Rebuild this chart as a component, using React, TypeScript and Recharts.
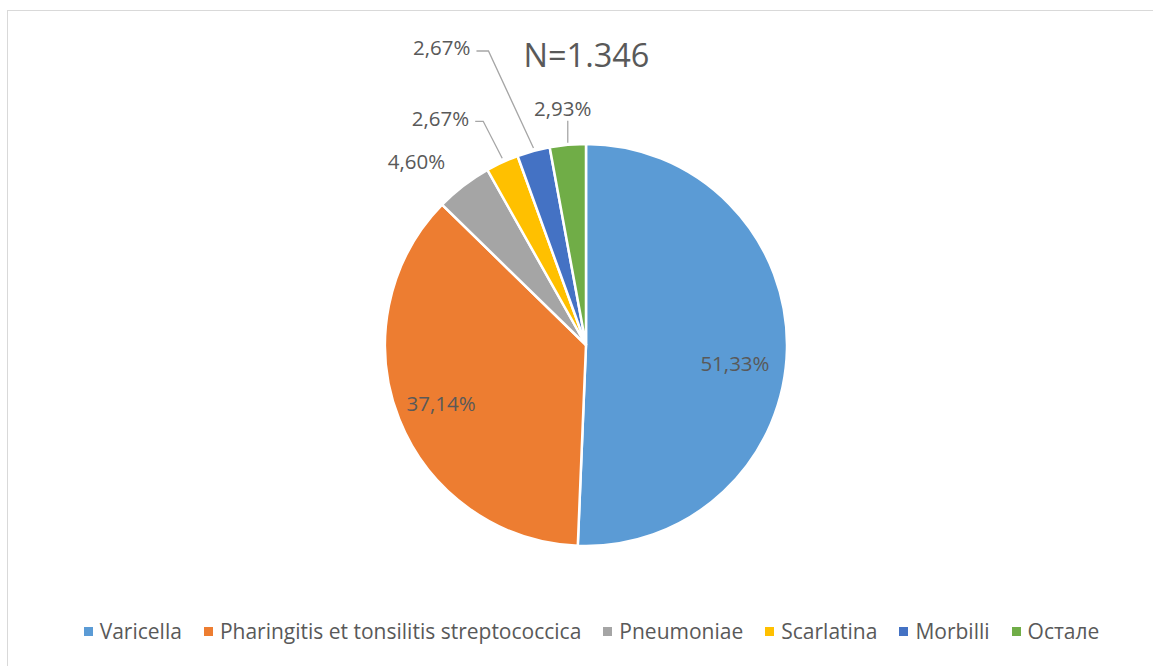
import React from "react";
import { Legend, Pie, PieChart, Cell } from "recharts";

const categories = [
  "Varicella",
  "Pharingitis et tonsilitis streptococcica",
  "Pneumoniae",
  "Scarlatina",
  "Morbilli",
  "Остале",
];
const values = [51.33, 37.14, 4.6, 2.67, 2.67, 2.93];
const valueLabels = ["51,33%", "37,14%", "4,60%", "2,67%", "2,67%", "2,93%"];
const colors = ["#5B9BD5", "#ED7D31", "#A5A5A5", "#FFC000", "#4472C4", "#70AD47"];

const title = "N=1.346";

const data = categories.map((name, i) => ({ name, value: values[i], label: valueLabels[i] }));

const FONT = "'Open Sans', sans-serif";
const TEXT = "#595959";
const LINE = "#A6A6A6";
const RAD = Math.PI / 180;
const LABEL_SIZE = 20.5;

// label placement per slice: inside (radius) or outside (offsets from slice edge)
type LabelLayout =
  | { kind: "inside"; r: number; dy: number }
  | { kind: "outside"; text: [number, number]; anchor: "start" | "middle" | "end"; line?: [number, number][] };

const labelLayout: LabelLayout[] = [
  { kind: "inside", r: 149, dy: 15 },
  { kind: "inside", r: 156, dy: 0 },
  { kind: "outside", text: [-47, -25], anchor: "middle" },
  { kind: "outside", text: [-33, -44], anchor: "end", line: [[0, -4], [-19, -41], [-27, -41]] },
  { kind: "outside", text: [-63, -104], anchor: "end", line: [[0, -3], [-45, -100], [-57, -100]] },
  { kind: "outside", text: [-5, -37], anchor: "middle", line: [[0, -2], [0, -24]] },
];

function renderLabel(props: any) {
  const { cx, cy, midAngle, outerRadius, index } = props;
  const layout = labelLayout[index];
  const cos = Math.cos(-midAngle * RAD);
  const sin = Math.sin(-midAngle * RAD);
  const text = valueLabels[index];
  if (layout.kind === "inside") {
    const x = cx + layout.r * cos;
    const y = cy + layout.r * sin + layout.dy;
    return (
      <text x={x} y={y} textAnchor="middle" dominantBaseline="central" fill={TEXT} fontSize={LABEL_SIZE} fontFamily={FONT}>
        {text}
      </text>
    );
  }
  const ex = cx + outerRadius * cos;
  const ey = cy + outerRadius * sin;
  return (
    <g>
      {layout.line && (
        <polyline
          points={layout.line.map(([dx, dy]) => `${ex + dx},${ey + dy}`).join(" ")}
          fill="none"
          stroke={LINE}
          strokeWidth={1.3}
        />
      )}
      <text
        x={ex + layout.text[0]}
        y={ey + layout.text[1]}
        textAnchor={layout.anchor}
        dominantBaseline="central"
        fill={TEXT}
        fontSize={LABEL_SIZE}
        fontFamily={FONT}
      >
        {text}
      </text>
    </g>
  );
}

function renderLegend() {
  return (
    <div
      style={{
        display: "flex",
        justifyContent: "center",
        alignItems: "center",
        fontFamily: FONT,
        fontSize: 21,
        color: TEXT,
        gap: 22,
      }}
    >
      {categories.map((c, i) => (
        <div key={c} style={{ display: "flex", alignItems: "center", gap: 7 }}>
          <span style={{ width: 9, height: 9, background: colors[i], display: "inline-block" }} />
          <span>{c}</span>
        </div>
      ))}
    </div>
  );
}

export default function App() {
  return (
    <div style={{ position: "absolute", left: 0, top: 0, width: 1153, height: 666, overflow: "hidden", background: "#fff" }}>
      <div
        style={{
          position: "absolute",
          left: 7,
          top: 10,
          width: 1160,
          height: 670,
          border: "1.5px solid #D9D9D9",
          boxSizing: "border-box",
        }}
      />
      <div
        style={{
          position: "absolute",
          left: 0,
          top: 31,
          width: 1173,
          textAlign: "center",
          fontFamily: FONT,
          fontSize: 32.5,
          color: TEXT,
          lineHeight: "48px",
        }}
      >
        {title}
      </div>
      <div style={{ position: "absolute", left: 0, top: 0 }}>
        <PieChart width={1153} height={666} margin={{ top: 0, right: 0, bottom: 0, left: 0 }}>
          <Pie
            data={data}
            dataKey="value"
            nameKey="name"
            cx={586}
            cy={345}
            outerRadius={201}
            startAngle={90}
            endAngle={-270}
            stroke="#FFFFFF"
            strokeWidth={2.5}
            label={renderLabel}
            labelLine={false}
            isAnimationActive={false}
          >
            {data.map((d, i) => (
              <Cell key={d.name} fill={colors[i]} />
            ))}
          </Pie>
          <Legend content={renderLegend} wrapperStyle={{ position: "absolute", top: 617, left: 0, width: 1183 }} />
        </PieChart>
      </div>
    </div>
  );
}
